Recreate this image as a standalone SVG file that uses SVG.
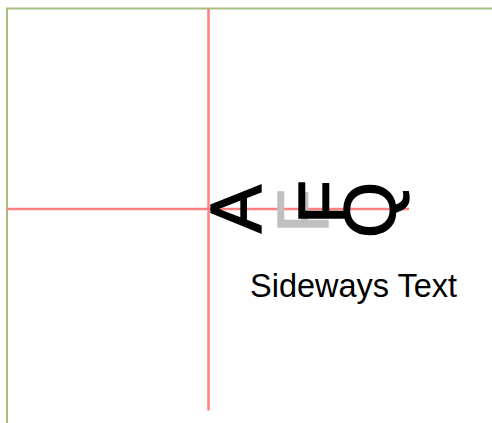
<svg xmlns="http://www.w3.org/2000/svg" width="492" height="423" viewBox="0 0 492 423">
<style>
.guide{stroke:#ff8080;stroke-width:2.5;fill:none}
.big{font-family:"Liberation Sans",Arial,sans-serif;font-size:72px;stroke-width:1.4}
.label{font-family:"Liberation Sans",Arial,sans-serif;font-size:32.5px;fill:#000}
</style>
<rect width="492" height="423" fill="#ffffff"/>
<rect x="7" y="8.5" width="600" height="600" fill="none" stroke="#a6bf7e" stroke-width="2"/>
<g id="guides">
<line class="guide" x1="208.5" y1="9" x2="208.5" y2="410.5"/>
<line class="guide" x1="7" y1="209" x2="409" y2="209"/>
</g>
<g id="glyphs">
<text class="big" fill="#c0c0c0" stroke="#c0c0c0" transform="translate(328,233) rotate(-90)">F</text>
<text class="big" fill="#000" stroke="#000" transform="translate(261,233) rotate(-90)">A</text>
<text class="big" fill="#000" stroke="#000" transform="translate(349,224) rotate(-90)">F</text>
<text class="big" fill="#000" stroke="#000" transform="translate(395,238) rotate(-90)">Q</text>
</g>
<text class="label" x="250" y="297">Sideways Text</text>
</svg>
